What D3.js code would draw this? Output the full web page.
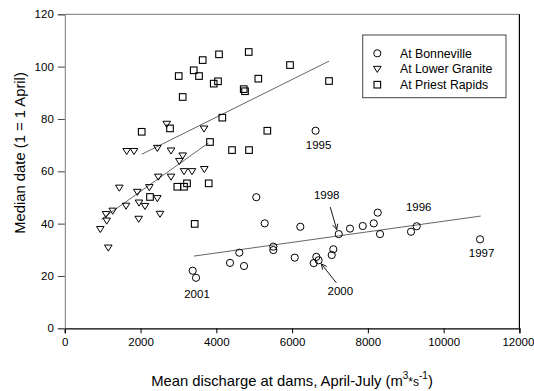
<!DOCTYPE html>
<html>
<head>
<meta charset="utf-8">
<script src="https://cdn.jsdelivr.net/npm/d3@7"></script>
<style>
  html, body { margin: 0; padding: 0; background: #fff; }
  svg { display: block; font-family: Arial, "Liberation Sans", sans-serif; }
</style>
</head>
<body>
<svg id="chart" width="534" height="391"></svg>
<script>
// ---- Data (discharge m3/s, median date with 1 = 1 April) ----
const bonnevilleX = [6620, 5055, 5277, 6217, 7231, 7529, 7864, 8155, 8260, 8321, 9139, 9290, 10961,
                     4607, 5504, 5504, 4361, 4731, 3376, 3464, 6069, 7088, 7046, 6640, 6570, 6700];
const bonnevilleY = [75.5, 50.1, 40.1, 38.8, 36.0, 38.1, 39.1, 40.1, 44.2, 36.0, 36.9, 39.0, 34.0,
                     28.9, 31.2, 29.9, 25.0, 23.8, 22.0, 19.3, 27.0, 30.2, 28.0, 27.3, 24.9, 26.0];

const graniteX = [2690, 3675, 1634, 1827, 2442, 2804, 3112, 3023, 3147, 3358, 3683, 2468, 2804,
                  1439, 1914, 2231, 2442, 1959, 2117, 1616, 1265, 1088, 2513, 1106, 1951, 937, 1148];
const graniteY = [78.1, 76.3, 67.7, 67.7, 68.9, 67.9, 66.0, 63.9, 60.0, 60.0, 60.8, 57.9, 57.9,
                  53.7, 52.1, 53.9, 49.7, 48.0, 46.7, 46.8, 44.9, 43.6, 43.7, 41.1, 41.8, 37.9, 30.8];

const priestX = [4071, 3640, 3403, 3543, 3007, 3931, 4044, 3112, 4158, 2777, 2030, 4855, 5108, 4723,
                 4757, 5945, 6975, 5346, 3833, 4414, 4863, 2970, 3147, 3226, 3799, 2249, 3429];
const priestY = [104.7, 102.5, 98.6, 96.4, 96.4, 93.5, 94.4, 88.4, 80.5, 76.4, 75.1, 105.6, 95.4, 91.4,
                 90.6, 100.6, 94.5, 75.5, 71.2, 68.1, 68.1, 54.1, 54.1, 55.4, 55.4, 50.2, 39.9];

// regression line end points
const bonnevilleFitX = [3410, 10980];
const bonnevilleFitY = [27.6, 42.9];
const graniteFitX = [960, 3790];
const graniteFitY = [41.6, 70.8];
const priestFitX = [2030, 6975];
const priestFitY = [66.5, 102.1];

const xTicks = [0, 2000, 4000, 6000, 8000, 10000, 12000];
const yTicks = [0, 20, 40, 60, 80, 100, 120];

const seriesNames = ["At Bonneville", "At Lower Granite", "At Priest Rapids"];

// year annotations (label text, anchor point index in Bonneville series)
const yearLabels = ["1995", "1996", "1997", "1998", "2000", "2001"];
const yearPointIdx = [0, 11, 12, 4, 23, 19];

// ---- Layout ----
const svg = d3.select("#chart");
const x = d3.scaleLinear().domain([0, 12000]).range([64.8, 519.4]);
const y = d3.scaleLinear().domain([0, 120]).range([328.3, 14.3]);

// frame top & right
svg.append("line").attr("x1", x(0)).attr("x2", x(12000)).attr("y1", y(120)).attr("y2", y(120))
  .attr("stroke", "#777").attr("stroke-width", 1);
svg.append("line").attr("x1", x(12000)).attr("x2", x(12000)).attr("y1", y(120)).attr("y2", y(0))
  .attr("stroke", "#000").attr("stroke-width", 1.2);

// axes
const xAxis = d3.axisBottom(x).tickValues(xTicks).tickSize(5).tickPadding(5).tickFormat(d3.format("d"));
const gx = svg.append("g").attr("transform", `translate(0,${y(0)})`).call(xAxis);
gx.select(".domain").attr("stroke", "#000").attr("stroke-width", 1.2);
gx.selectAll(".tick line").attr("stroke", "#000");
gx.selectAll(".tick text").attr("font-size", 11.5).attr("fill", "#000")
  .attr("font-family", "Arial, 'Liberation Sans', sans-serif");
gx.selectAll(".tick text").filter(d => d === 12000).attr("dx", -1.5);

const yAxis = d3.axisLeft(y).tickValues(yTicks).tickSize(7).tickPadding(4);
const gy = svg.append("g").attr("transform", `translate(${x(0)},0)`).call(yAxis);
gy.select(".domain").attr("stroke", "#777").attr("stroke-width", 1);
gy.selectAll(".tick line").attr("stroke", "#444");
gy.selectAll(".tick text").attr("font-size", 11.5).attr("fill", "#000")
  .attr("font-family", "Arial, 'Liberation Sans', sans-serif");

// axis titles
const xt = svg.append("text").attr("x", 292).attr("y", 386).attr("text-anchor", "middle")
  .attr("font-size", 14.8).attr("fill", "#000");
xt.append("tspan").text("Mean discharge at dams, April-July (m");
xt.append("tspan").attr("dy", -7).attr("font-size", 10).text("3");
xt.append("tspan").attr("dy", 7).attr("font-size", 12).text("*s");
xt.append("tspan").attr("dy", -7).attr("font-size", 10).text("-1");
xt.append("tspan").attr("dy", 7).text(")");

svg.append("text").attr("transform", `translate(25,153) rotate(-90)`)
  .attr("text-anchor", "middle").attr("font-size", 14.8).attr("fill", "#000")
  .text("Median date (1 = 1 April)");

// regression lines
const fits = [[bonnevilleFitX, bonnevilleFitY], [graniteFitX, graniteFitY], [priestFitX, priestFitY]];
fits.forEach(([fx, fy]) => {
  svg.append("line").attr("x1", x(fx[0])).attr("y1", y(fy[0])).attr("x2", x(fx[1])).attr("y2", y(fy[1]))
    .attr("stroke", "#555").attr("stroke-width", 0.9);
});

// marker drawers
function drawCircle(g, cx, cy) {
  g.append("circle").attr("cx", cx).attr("cy", cy).attr("r", 3.6)
    .attr("fill", "none").attr("stroke", "#000").attr("stroke-width", 1);
}
function drawTri(g, cx, cy) {
  const s = 3.8;
  g.append("path").attr("d", `M${cx - s},${cy - s * 0.7}L${cx + s},${cy - s * 0.7}L${cx},${cy + s * 0.9}Z`)
    .attr("fill", "none").attr("stroke", "#000").attr("stroke-width", 1);
}
function drawSq(g, cx, cy) {
  const s = 3.3;
  g.append("rect").attr("x", cx - s).attr("y", cy - s).attr("width", 2 * s).attr("height", 2 * s)
    .attr("fill", "none").attr("stroke", "#000").attr("stroke-width", 1.1);
}

const pts = svg.append("g");
priestX.forEach((v, i) => drawSq(pts, x(v), y(priestY[i])));
graniteX.forEach((v, i) => drawTri(pts, x(v), y(graniteY[i])));
bonnevilleX.forEach((v, i) => drawCircle(pts, x(v), y(bonnevilleY[i])));

// year annotations: label offset from anchor point (px)
const labelOffset = { "1995": [3, 18], "1996": [2, -15], "1997": [1.5, 18], "1998": [-12, -35], "2000": [24, 38], "2001": [1, 20] };
yearLabels.forEach((yr, k) => {
  const i = yearPointIdx[k];
  const px = x(bonnevilleX[i]), py = y(bonnevilleY[i]);
  const [dx, dy] = labelOffset[yr];
  svg.append("text").attr("x", px + dx).attr("y", py + dy).attr("text-anchor", "middle")
    .attr("font-size", 11.5).attr("fill", "#000").text(yr);
});

// arrows
function arrow(x1, y1, x2, y2) {
  svg.append("line").attr("x1", x1).attr("y1", y1).attr("x2", x2).attr("y2", y2)
    .attr("stroke", "#000").attr("stroke-width", 0.9);
  const a = Math.atan2(y2 - y1, x2 - x1), L = 6, w = 0.45;
  svg.append("path")
    .attr("d", `M${x2 - L * Math.cos(a - w)},${y2 - L * Math.sin(a - w)}L${x2},${y2}L${x2 - L * Math.cos(a + w)},${y2 - L * Math.sin(a + w)}`)
    .attr("fill", "none").attr("stroke", "#000").attr("stroke-width", 0.9);
}
{
  const i98 = yearPointIdx[3];
  const p98 = [x(bonnevilleX[i98]), y(bonnevilleY[i98])];
  arrow(p98[0] - 8.5, p98[1] - 27, p98[0] - 2, p98[1] - 4.5);
  const i00 = yearPointIdx[4];
  const p00 = [x(bonnevilleX[i00]), y(bonnevilleY[i00])];
  arrow(p00[0] + 20, p00[1] + 26, p00[0] + 5, p00[1] + 7);
}

// legend
const lg = svg.append("g");
lg.append("rect").attr("x", 362.7).attr("y", 35).attr("width", 143.3).attr("height", 62.7)
  .attr("fill", "#fff").attr("stroke", "#444").attr("stroke-width", 1);
const drawers = [drawCircle, drawTri, drawSq];
seriesNames.forEach((n, i) => {
  const cy = 53.3 + i * 15.7;
  drawers[i](lg, 377.3, cy);
  lg.append("text").attr("x", 400).attr("y", cy + 4.3).attr("font-size", 12.3).attr("fill", "#000").text(n);
});
</script>
</body>
</html>
